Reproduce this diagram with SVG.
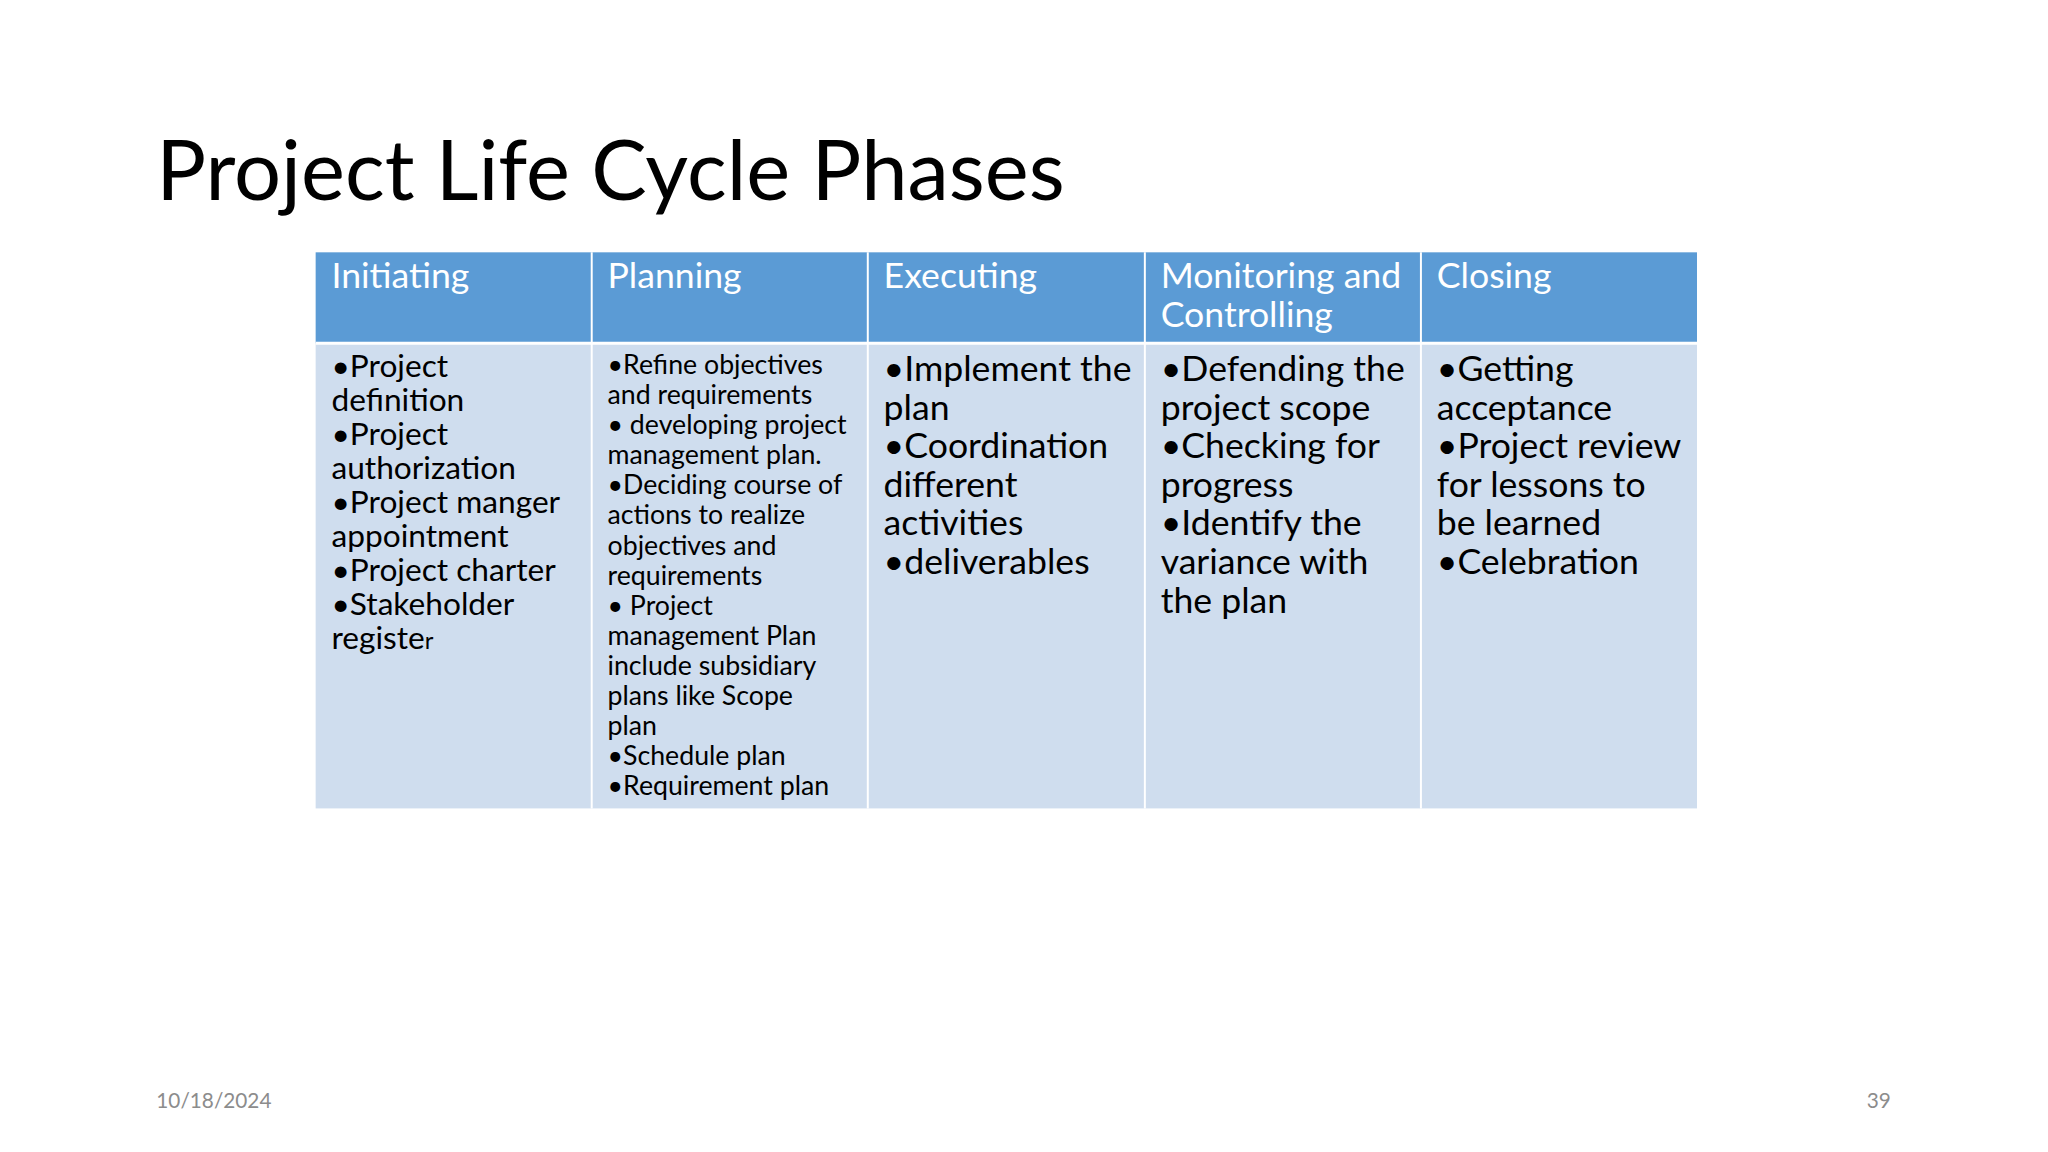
<svg xmlns="http://www.w3.org/2000/svg" width="2048" height="1152" viewBox="0 0 2048 1152">
<style>
text{font-family:Lato,"Open Sans","Liberation Sans",sans-serif}
.h{fill:#fff;font-size:36px}
.c1{font-size:32px;fill:#000}
.c2{font-size:27px;fill:#000}
.c3{font-size:36px;fill:#000}
.hd{fill:#5B9BD5}
.bd{fill:#CFDDEE}
.ft{font-size:21px;fill:#8C8C8C}
</style>
<rect width="2048" height="1152" fill="#fff"/>
<g transform="scale(0.9895)">
<text x="158" y="202" font-size="84" fill="#000">Project Life Cycle Phases</text>
<g id="table">
<rect class="hd" x="319" y="255" width="1396" height="92"/>
<rect class="bd" x="319" y="347" width="1396" height="470"/>
<g stroke="#fff" stroke-width="2">
<line x1="598" y1="255" x2="598" y2="817"/><line x1="877" y1="255" x2="877" y2="817"/>
<line x1="1157" y1="255" x2="1157" y2="817"/><line x1="1436" y1="255" x2="1436" y2="817"/>
<line x1="319" y1="347" x2="1715" y2="347" stroke-width="3"/>
</g>
</g>
<g id="initiating">
<text class="h" x="335" y="291">Initiating</text>
<text class="c1" x="335" y="381"><tspan x="335">•Project</tspan><tspan x="335" dy="34.3">definition</tspan><tspan x="335" dy="34.3">•Project</tspan><tspan x="335" dy="34.3">authorization</tspan><tspan x="335" dy="34.3">•Project manger</tspan><tspan x="335" dy="34.3">appointment</tspan><tspan x="335" dy="34.3">•Project charter</tspan><tspan x="335" dy="34.3">•Stakeholder</tspan><tspan x="335" dy="34.3">registe<tspan font-size="24">r</tspan></tspan></text>
</g>
<g id="planning">
<text class="h" x="614" y="291">Planning</text>
<text class="c2" x="614" y="378"><tspan x="614">•Refine objectives</tspan><tspan x="614" dy="30.4">and requirements</tspan><tspan x="614" dy="30.4">• developing project</tspan><tspan x="614" dy="30.4">management plan.</tspan><tspan x="614" dy="30.4">•Deciding course of</tspan><tspan x="614" dy="30.4">actions to realize</tspan><tspan x="614" dy="30.4">objectives and</tspan><tspan x="614" dy="30.4">requirements</tspan><tspan x="614" dy="30.4">• Project</tspan><tspan x="614" dy="30.4">management Plan</tspan><tspan x="614" dy="30.4">include subsidiary</tspan><tspan x="614" dy="30.4">plans like Scope</tspan><tspan x="614" dy="30.4">plan</tspan><tspan x="614" dy="30.4">•Schedule plan</tspan><tspan x="614" dy="30.4">•Requirement plan</tspan></text>
</g>
<g id="executing">
<text class="h" x="893" y="291">Executing</text>
<text class="c3" x="893" y="385"><tspan x="893">•Implement the</tspan><tspan x="893" dy="39">plan</tspan><tspan x="893" dy="39">•Coordination</tspan><tspan x="893" dy="39">different</tspan><tspan x="893" dy="39">activities</tspan><tspan x="893" dy="39">•deliverables</tspan></text>
</g>
<g id="monitoring">
<text class="h" x="1173" y="291"><tspan x="1173">Monitoring and</tspan><tspan x="1173" dy="39">Controlling</tspan></text>
<text class="c3" x="1173" y="385"><tspan x="1173">•Defending the</tspan><tspan x="1173" dy="39">project scope</tspan><tspan x="1173" dy="39">•Checking for</tspan><tspan x="1173" dy="39">progress</tspan><tspan x="1173" dy="39">•Identify the</tspan><tspan x="1173" dy="39">variance with</tspan><tspan x="1173" dy="39">the plan</tspan></text>
</g>
<g id="closing">
<text class="h" x="1452" y="291">Closing</text>
<text class="c3" x="1452" y="385"><tspan x="1452">•Getting</tspan><tspan x="1452" dy="39">acceptance</tspan><tspan x="1452" dy="39">•Project review</tspan><tspan x="1452" dy="39">for lessons to</tspan><tspan x="1452" dy="39">be learned</tspan><tspan x="1452" dy="39">•Celebration</tspan></text>
</g>
<text class="ft" x="158" y="1120">10/18/2024</text>
<text class="ft" x="1911" y="1120" text-anchor="end">39</text>
</g>
</svg>
